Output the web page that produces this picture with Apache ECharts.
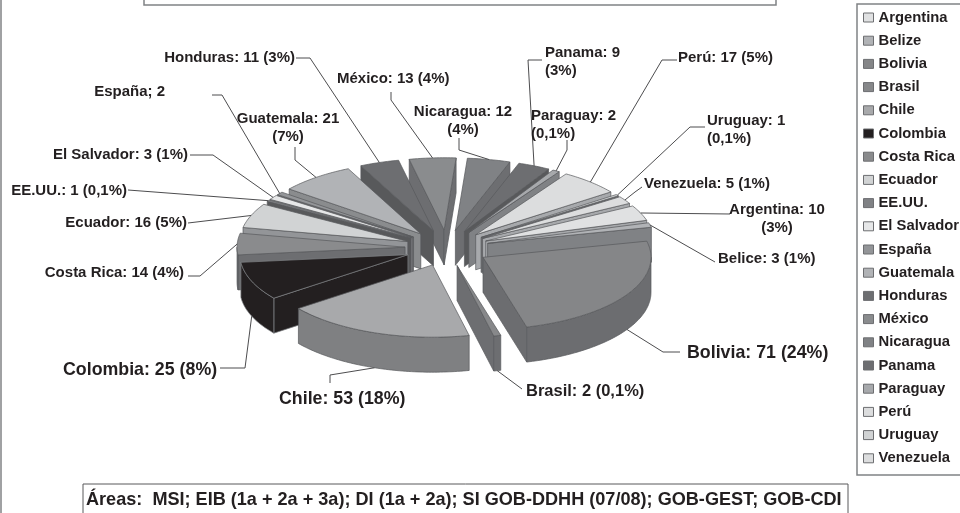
<!DOCTYPE html>
<html>
<head>
<meta charset="utf-8">
<style>
  html, body { margin: 0; padding: 0; background: #fff; }
  #chart { width: 960px; height: 513px; }
</style>
<script src="https://cdn.jsdelivr.net/npm/echarts@6/dist/echarts.min.js"></script>
</head>
<body>
<div id="chart"></div>
<script>
// datos
const legendNames = ["Argentina", "Belize", "Bolivia", "Brasil", "Chile", "Colombia", "Costa Rica", "Ecuador", "EE.UU.", "El Salvador", "España", "Guatemala", "Honduras", "México", "Nicaragua", "Panama", "Paraguay", "Perú", "Uruguay", "Venezuela"];
const values = [10, 3, 71, 2, 53, 25, 14, 16, 1, 3, 2, 21, 11, 13, 12, 9, 2, 17, 1, 5];
const labels = ["Argentina: 10\n(3%)", "Belice: 3 (1%)", "Bolivia: 71 (24%)", "Brasil: 2 (0,1%)", "Chile: 53 (18%)", "Colombia: 25 (8%)", "Costa Rica: 14 (4%)", "Ecuador: 16 (5%)", "EE.UU.: 1 (0,1%)", "El Salvador: 3 (1%)", "España; 2", "Guatemala: 21\n(7%)", "Honduras: 11 (3%)", "México: 13 (4%)", "Nicaragua: 12\n(4%)", "Panama: 9\n(3%)", "Paraguay: 2\n(0,1%)", "Perú: 17 (5%)", "Uruguay: 1\n(0,1%)", "Venezuela: 5 (1%)"];
const footerText = "Áreas:  MSI; EIB (1a + 2a + 3a); DI (1a + 2a); SI GOB-DDHH (07/08); GOB-GEST; GOB-CDI";

// colores: cara superior y pared lateral
const topColors = ["#e0e1e2", "#b1b3b6", "#858688", "#87888a", "#a8a9ab", "#231f20", "#8a8b8d", "#d1d3d4", "#808285", "#e6e7e8", "#939598", "#b1b3b6", "#6d6e71", "#8a8c8e", "#808285", "#6d6e71", "#a7a9ac", "#dcddde", "#d1d3d4", "#dcddde"];
const wallColors = ["#a7a9ac", "#808285", "#6c6d70", "#6d6e71", "#7f8082", "#231f20", "#6d6e71", "#939598", "#58595b", "#a7a9ac", "#6d6e71", "#8a8c8e", "#58595b", "#6d6e71", "#6d6e71", "#58595b", "#808285", "#a7a9ac", "#6d6e71", "#a7a9ac"];

// geometria de la torta 3D
const pie = { cx: 447, cy: 248, r: 168, tilt: 0.43, depth: 35, explode: 42, startDeg: -29 };

// texto: posicion, alineacion, tamano + codos de la linea guia
const labelLayout = [
  { x: 777, y: 219, align: "center", knees: [[730, 214]] },
  { x: 718, y: 259, align: "left", knees: [[715, 262]] },
  { x: 687, y: 353, align: "left", size: 17.8, knees: [[663, 352], [680, 352]] },
  { x: 526, y: 391, align: "left", size: 16.5, knees: [[522, 389]] },
  { x: 279, y: 399, align: "left", size: 17.8, knees: [[330, 375], [330, 383]] },
  { x: 63, y: 370, align: "left", size: 17.8, knees: [[245, 368], [220, 368]] },
  { x: 184, y: 273, align: "right", knees: [[200, 276], [188, 276]] },
  { x: 187, y: 223, align: "right", knees: [[188, 223]] },
  { x: 127, y: 191, align: "right", knees: [[128, 190]] },
  { x: 188, y: 155, align: "right", knees: [[213, 155], [190, 155]] },
  { x: 165, y: 92, align: "right", knees: [[222, 95], [212, 95]] },
  { x: 288, y: 128, align: "center", knees: [[295, 160], [295, 147]] },
  { x: 295, y: 58, align: "right", knees: [[310, 58], [296, 58]] },
  { x: 337, y: 79, align: "left", knees: [[391, 100], [391, 92]] },
  { x: 463, y: 121, align: "center", knees: [[459, 150], [459, 138]] },
  { x: 545, y: 62, align: "left", knees: [[528, 60], [542, 60]] },
  { x: 531, y: 125, align: "left", knees: [[567, 150], [567, 140]] },
  { x: 678, y: 58, align: "left", knees: [[662, 60], [677, 60]] },
  { x: 707, y: 130, align: "left", knees: [[690, 127], [705, 127]] },
  { x: 644, y: 184, align: "left", knees: [[635, 192], [642, 187]] }
];

const total = values.reduce((a, b) => a + b, 0);
const rad = (d) => (d * Math.PI) / 180;

// angulos de cada porcion a partir de los valores
const slices = [];
let acc = pie.startDeg;
values.forEach((v) => {
  const a0 = acc;
  acc += (v / total) * 360;
  slices.push({ a0, a1: acc, mid: (a0 + acc) / 2 });
});

const apexOf = (s) => [
  pie.cx + pie.explode * Math.cos(rad(s.mid)),
  pie.cy + pie.explode * pie.tilt * Math.sin(rad(s.mid))
];
const rimPoint = (apex, deg) => [
  apex[0] + pie.r * Math.cos(rad(deg)),
  apex[1] + pie.r * pie.tilt * Math.sin(rad(deg))
];
const down = (p) => [p[0], p[1] + pie.depth];

const arcPoints = (apex, from, to) => {
  const pts = [];
  const n = Math.max(2, Math.ceil(to - from));
  for (let i = 0; i <= n; i++) pts.push(rimPoint(apex, from + ((to - from) * i) / n));
  return pts;
};

const sliceItem = (i) => (params, api) => {
  const s = slices[i];
  const apex = apexOf(s);
  const edge = i === 5 ? "#808285" : "#58595b";
  const wallStyle = { fill: wallColors[i], stroke: edge, lineWidth: 0.7 };
  const children = [];
  const wall = (points) => children.push({ type: "polygon", shape: { points }, style: wallStyle });

  // solo las paredes que miran al observador
  if (Math.sin(rad(s.a0 - 90)) > 0) {
    const p = rimPoint(apex, s.a0);
    wall([apex, p, down(p), down(apex)]);
  }
  if (Math.sin(rad(s.a1 + 90)) > 0) {
    const p = rimPoint(apex, s.a1);
    wall([apex, p, down(p), down(apex)]);
  }
  const from = Math.max(s.a0, 0);
  const to = Math.min(s.a1, 180);
  if (to > from) {
    const arc = arcPoints(apex, from, to);
    wall(arc.concat(arc.map(down).reverse()));
  }
  children.push({
    type: "polygon",
    shape: { points: [apex].concat(arcPoints(apex, s.a0, s.a1)) },
    style: { fill: topColors[i], stroke: edge, lineWidth: 0.7 }
  });
  return { type: "group", children };
};

// porciones lejanas primero
const depthOrder = slices.map((s, i) => ({ i, y: apexOf(s)[1] + pie.r * pie.tilt * Math.sin(rad(s.mid)) }))
  .sort((a, b) => a.y - b.y)
  .map((d) => d.i);

const sliceSeries = legendNames.map((name, i) => ({
  type: "custom",
  name,
  coordinateSystem: "none",
  silent: true,
  z: 2 + depthOrder.indexOf(i),
  itemStyle: { color: topColors[i] },
  data: [[values[i]]],
  renderItem: sliceItem(i)
}));

const labelSeries = {
  type: "custom",
  name: "etiquetas",
  coordinateSystem: "none",
  silent: true,
  z: 40,
  data: labels.map((t, i) => [i]),
  renderItem: (params, api) => {
    const i = api.value(0);
    const s = slices[i];
    const lay = labelLayout[i];
    let tip = rimPoint(apexOf(s), s.mid);
    if (Math.sin(rad(s.mid)) > 0.2) tip = down(tip);
    return {
      type: "group",
      children: [
        {
          type: "polyline",
          shape: { points: [tip].concat(lay.knees) },
          style: { fill: null, stroke: "#4d4d4f", lineWidth: 1 }
        },
        {
          type: "text",
          x: lay.x,
          y: lay.y,
          style: {
            text: labels[i],
            fill: "#231f20",
            font: "bold " + (lay.size || 15) + "px 'Liberation Sans', Arial, sans-serif",
            align: lay.align,
            verticalAlign: "middle",
            lineHeight: 18
          }
        }
      ]
    };
  }
};

const frameStyle = { fill: "none", stroke: "#808285", lineWidth: 1.5 };

const option = {
  animation: false,
  backgroundColor: "#fff",
  legend: {
    data: legendNames,
    orient: "vertical",
    left: 863,
    top: 10,
    padding: 0,
    itemWidth: 10,
    itemHeight: 9,
    itemGap: 8.2,
    icon: "rect",
    selectedMode: false,
    itemStyle: { borderColor: "#6d6e71", borderWidth: 1 },
    textStyle: {
      color: "#231f20",
      fontFamily: "'Liberation Sans', Arial, sans-serif",
      fontWeight: "bold",
      fontSize: 14.8,
      lineHeight: 15
    },
    formatter: (n) => n
  },
  graphic: [
    { type: "rect", shape: { x: 144, y: -10, width: 632, height: 15 }, style: frameStyle },
    { type: "rect", shape: { x: 857, y: 4, width: 120, height: 471 }, style: frameStyle },
    { type: "rect", shape: { x: 83, y: 484, width: 765, height: 50 }, style: { fill: "none", stroke: "#58595b", lineWidth: 1 } },
    { type: "line", shape: { x1: 1, y1: 0, x2: 1, y2: 513 }, style: { stroke: "#808285", lineWidth: 1.5 } },
    {
      type: "text",
      x: 86,
      y: 500,
      style: {
        text: footerText,
        fill: "#231f20",
        font: "bold 18.1px 'Liberation Sans', Arial, sans-serif",
        verticalAlign: "middle"
      }
    }
  ],
  series: sliceSeries.concat([labelSeries])
};

const chart = echarts.init(document.getElementById("chart"));
chart.setOption(option);
</script>
</body>
</html>
